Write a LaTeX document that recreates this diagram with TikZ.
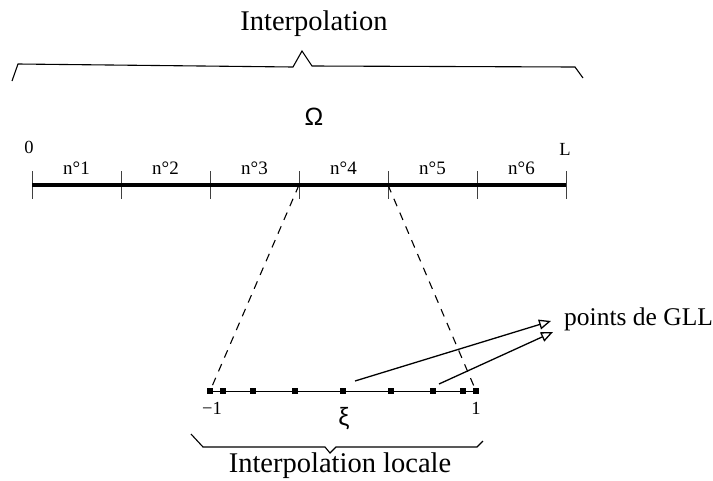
\documentclass[tikz,border=0pt]{standalone}
\usepackage{fontspec}
\setmainfont{Liberation Serif}
\newfontfamily\symfont{Liberation Sans}
\usetikzlibrary{arrows.meta}
\tikzset{
  brace/.style={line width=1.1pt},
  axisline/.style={line width=4pt},
  tickline/.style={line width=0.8pt, black!75},
  dashline/.style={line width=1.1pt, dash pattern=on 8pt off 7pt},
  arrowline/.style={line width=1.3pt, -{Triangle[open,length=12pt,width=10pt,line width=1.3pt]}},
  bigtxt/.style={font=\fontsize{28.5}{32}\selectfont, inner sep=0pt},
  midtxt/.style={font=\fontsize{25.5}{29}\selectfont, inner sep=0pt},
  smalltxt/.style={font=\fontsize{19}{22}\selectfont, inner sep=0pt},
  numtxt/.style={font=\fontsize{18.5}{21}\selectfont, inner sep=0pt},
  symtxt/.style={font=\symfont\fontsize{25}{29}\selectfont, inner sep=0pt},
  gllpt/.style={fill=black, minimum size=6pt, inner sep=0pt, draw=none, rectangle}
}
\begin{document}
\begin{tikzpicture}[x=1pt,y=-1pt]
\useasboundingbox (0,0) rectangle (713,480);

% top label and brace
\node[bigtxt] (interp) at (314,24) {Interpolation};
\draw[brace] (12,81) -- (18,64) -- (293,67) -- (302,51) -- (312,66) -- (575,67) -- (583,78);

\node[symtxt] (omega) at (314,117) {Ω};

% axis
\foreach \i in {0,...,6} {
  \coordinate (t\i) at ({32+89*\i},185);
  \draw[tickline] ({32+89*\i},171) -- ({32+89*\i},199);
}
\draw[axisline] (t0) -- (t6);
\foreach \i in {1,...,6} {
  \node[smalltxt] (n\i) at ({32+89*\i-44.5},168) {n°\i};
}
\node[numtxt] (zero) at (29,147) {0};
\node[numtxt] (ell) at (565,149) {L};

% local element
\foreach \k/\xi in {0/-1,1/-0.8997,2/-0.6771,3/-0.3631,4/0,5/0.3631,6/0.6771,7/0.8997,8/1} {
  \coordinate (p\k) at ({343+133*\xi},391);
}
\draw[line width=1pt] (p0) -- (p8);
\foreach \k in {0,...,8} {
  \node[gllpt] (q\k) at (p\k) {};
}
\draw[dashline] (t3) -- (p0);
\draw[dashline] (t4) -- (p8);

\node[numtxt] (mone) at (212,408) {−1};
\node[numtxt] (one) at (476,408) {1};
\node[symtxt] (xi) at (344,419) {ξ};

% GLL label and arrows
\node[midtxt, anchor=west] (gll) at (564,319) {points de GLL};
\coordinate (a1s) at (355,381);
\coordinate (a1e) at (551,321);
\coordinate (a2s) at (439,384);
\coordinate (a2e) at (553,332);
\draw[arrowline] (a1s) -- (a1e);
\draw[arrowline] (a2s) -- (a2e);

% bottom brace and label
\draw[brace] (191,434) -- (203,447) -- (325,447) -- (330,453) -- (336,447) -- (477,447) -- (483,441);
\node[bigtxt] (interploc) at (340,466) {Interpolation locale};
\end{tikzpicture}
\end{document}
